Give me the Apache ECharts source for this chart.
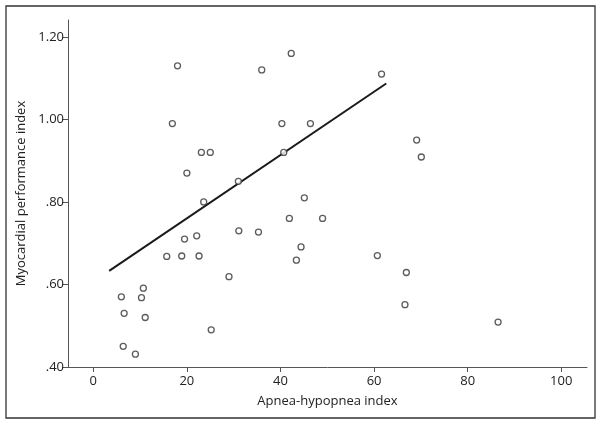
<!DOCTYPE html>
<html>
<head>
<meta charset="utf-8">
<script src="https://cdn.jsdelivr.net/npm/echarts@6/dist/echarts.min.js"></script>
<style>
html,body{margin:0;padding:0;background:#fff;}
#c{width:602px;height:425px;}
</style>
</head>
<body>
<div id="c"></div>
<script>
// Apnea-hypopnea index (x) and Myocardial performance index (y)
var ahi = [18.0, 36.0, 42.3, 16.9, 40.3, 46.4, 23.1, 25.0, 40.7, 20.0,
           31.0, 23.6, 45.1, 41.9, 49.0, 31.1, 35.3, 19.5, 22.1, 15.7,
           18.9, 22.6, 44.4, 43.4, 29.0, 10.7, 6.0, 10.3, 6.6, 11.1,
           25.2, 6.4, 9.0, 61.6, 69.1, 70.1, 60.7, 66.9, 66.6, 86.5];
var mpi = [1.13, 1.12, 1.16, 0.99, 0.99, 0.99, 0.92, 0.92, 0.92, 0.87,
           0.85, 0.80, 0.81, 0.76, 0.76, 0.73, 0.727, 0.71, 0.718, 0.668,
           0.669, 0.669, 0.691, 0.659, 0.619, 0.591, 0.57, 0.568, 0.53, 0.52,
           0.49, 0.45, 0.431, 1.11, 0.95, 0.909, 0.67, 0.629, 0.551, 0.509];
// Regression line end points
var fitX = [3.4, 62.6];
var fitY = [0.633, 1.087];
// Tick values / labels
var xTicks = [0, 20, 40, 60, 80, 100];
var yTicks = [0.4, 0.6, 0.8, 1.0, 1.2];
var yTickLabels = ['.40', '.60', '.80', '1.00', '1.20'];

var pts = ahi.map(function (v, i) { return [v, mpi[i]]; });
var fit = fitX.map(function (v, i) { return [v, fitY[i]]; });

var font = '"Open Sans", "Noto Sans", sans-serif';
var chart = echarts.init(document.getElementById('c'), null, {renderer: 'canvas'});
chart.setOption({
  animation: false,
  backgroundColor: '#fff',
  graphic: [{
    type: 'rect',
    shape: {x: 6, y: 6, width: 589, height: 412},
    style: {fill: 'none', stroke: '#333', lineWidth: 1.3},
    silent: true
  }],
  grid: {left: 68, top: 20, right: 15, bottom: 58, containLabel: false},
  xAxis: {
    type: 'value',
    min: -5.4, max: 105.5,
    name: 'Apnea-hypopnea index',
    nameLocation: 'middle',
    nameGap: 28,
    nameTextStyle: {fontFamily: font, fontSize: 13, color: '#222'},
    axisLine: {show: true, onZero: false, lineStyle: {color: '#555', width: 1}},
    axisTick: {show: true, length: 5, lineStyle: {color: '#555'}, customValues: xTicks},
    axisLabel: {show: true, margin: 8, fontFamily: font, fontSize: 13, color: '#222', customValues: xTicks},
    splitLine: {show: false}
  },
  yAxis: {
    type: 'value',
    min: 0.4, max: 1.241,
    name: 'Myocardial performance index',
    nameLocation: 'middle',
    nameGap: 40,
    nameRotate: 90,
    nameTextStyle: {fontFamily: font, fontSize: 13, color: '#222'},
    axisLine: {show: true, onZero: false, lineStyle: {color: '#555', width: 1}},
    axisTick: {show: true, length: 6, lineStyle: {color: '#555'}, customValues: yTicks},
    axisLabel: {
      show: true, margin: 4, fontFamily: font, fontSize: 13, color: '#222',
      customValues: yTicks,
      formatter: function (v) {
        for (var i = 0; i < yTicks.length; i++) {
          if (Math.abs(yTicks[i] - v) < 1e-6) return yTickLabels[i];
        }
        return '';
      }
    },
    splitLine: {show: false}
  },
  series: [{
    type: 'scatter',
    data: pts,
    symbol: 'circle',
    symbolSize: 6,
    itemStyle: {color: '#fff', borderColor: '#333', borderWidth: 1.3},
    z: 3
  }, {
    type: 'line',
    data: fit,
    symbol: 'none',
    lineStyle: {color: '#1a1a1a', width: 2},
    z: 2
  }]
});
</script>
</body>
</html>
